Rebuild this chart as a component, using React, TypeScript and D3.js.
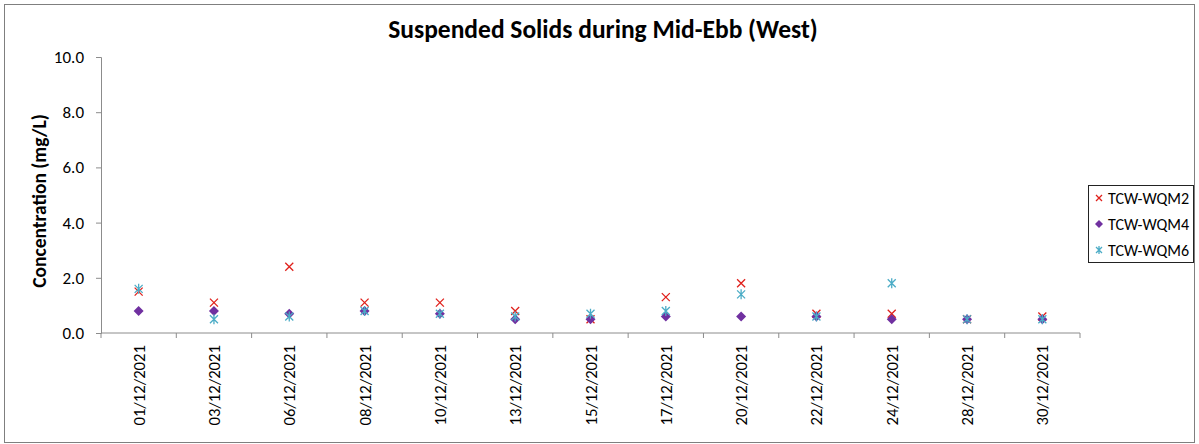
import { useEffect, useRef } from 'react';
import * as d3 from 'd3';

const dates = ['01/12/2021', '03/12/2021', '06/12/2021', '08/12/2021', '10/12/2021', '13/12/2021', '15/12/2021',
  '17/12/2021', '20/12/2021', '22/12/2021', '24/12/2021', '28/12/2021', '30/12/2021'];
const wqm2 = [1.5, 1.1, 2.4, 1.1, 1.1, 0.8, 0.5, 1.3, 1.8, 0.7, 0.7, 0.5, 0.6];
const wqm4 = [0.8, 0.8, 0.7, 0.8, 0.7, 0.5, 0.5, 0.6, 0.6, 0.6, 0.5, 0.5, 0.5];
const wqm6 = [1.6, 0.5, 0.6, 0.8, 0.7, 0.6, 0.7, 0.8, 1.4, 0.6, 1.8, 0.5, 0.5];
const yTicks = [0, 2, 4, 6, 8, 10];
const seriesNames = ['TCW-WQM2', 'TCW-WQM4', 'TCW-WQM6'];

const FONT = "Carlito, Lato, 'Liberation Sans', Arial, sans-serif";

// s = half size of marker
function drawMarker(g, kind, x, y, s = 4) {
  if (kind === 0) {
    g.append('path').attr('d', `M${x - s},${y - s}L${x + s},${y + s}M${x - s},${y + s}L${x + s},${y - s}`)
      .attr('stroke', '#e0201b').attr('stroke-width', 1.3).attr('fill', 'none');
  } else if (kind === 1) {
    const d = s + 1;
    g.append('path').attr('d', `M${x},${y - d}L${x + d},${y}L${x},${y + d}L${x - d},${y}Z`)
      .attr('fill', '#7030a0');
  } else {
    g.append('path').attr('d', `M${x - s},${y - s}L${x + s},${y + s}M${x - s},${y + s}L${x + s},${y - s}M${x},${y - s - 1}L${x},${y + s + 1}`)
      .attr('stroke', '#4bacc6').attr('stroke-width', 1.3).attr('fill', 'none');
  }
}

export default function App() {
  const svgRef = useRef(null);

  useEffect(() => {
    const svg = d3.select(svgRef.current);
    svg.selectAll('*').remove();

    const left = 101, right = 1080, top = 57, bottom = 333;

    svg.append('rect').attr('x', 4.5).attr('y', 4.5).attr('width', 1190).attr('height', 438)
      .attr('fill', 'white').attr('stroke', '#7f7f7f').attr('stroke-width', 1);

    const x = d3.scaleBand().domain(dates).range([left, right]);
    const y = d3.scaleLinear().domain([0, 10]).range([bottom, top]);

    // y axis
    const ya = svg.append('g').attr('transform', `translate(${left},0)`)
      .call(d3.axisLeft(y).tickValues(yTicks).tickSize(5).tickPadding(12).tickFormat(d3.format('.1f')));
    ya.select('.domain').attr('stroke', '#8c8c8c');
    ya.selectAll('line').attr('stroke', '#8c8c8c');
    ya.selectAll('text').attr('font-family', FONT).attr('font-size', 17).attr('fill', '#000');

    // x axis
    const xa = svg.append('g').attr('transform', `translate(0,${bottom})`);
    xa.append('line').attr('x1', left).attr('x2', right).attr('y1', 0).attr('y2', 0).attr('stroke', '#8c8c8c');
    xa.selectAll('.tk').data([...dates.map(d => x(d)), right]).enter().append('line')
      .attr('x1', d => d).attr('x2', d => d).attr('y1', 0).attr('y2', 5).attr('stroke', '#8c8c8c');
    xa.selectAll('.lbl').data(dates).enter().append('text')
      .attr('transform', d => `translate(${x(d) + x.bandwidth() / 2 + 6},12) rotate(-90)`)
      .attr('text-anchor', 'end').attr('font-family', FONT).attr('font-size', 16.7).text(d => d);

    // points
    const pts = svg.append('g');
    [wqm2, wqm4, wqm6].forEach((vals, k) => {
      vals.forEach((v, i) => drawMarker(pts, k, x(dates[i]) + x.bandwidth() / 2, y(v)));
    });

    // title
    svg.append('text').attr('x', 603).attr('y', 38).attr('text-anchor', 'middle')
      .attr('font-family', FONT).attr('font-weight', 'bold').attr('font-size', 25.5).text('Suspended Solids during Mid-Ebb (West)');

    svg.append('text').attr('transform', `translate(46,${(top + bottom) / 2 + 6}) rotate(-90)`)
      .attr('text-anchor', 'middle').attr('font-family', FONT).attr('font-weight', 'bold').attr('font-size', 19.5)
      .text('Concentration (mg/L)');

    // legend
    const lg = svg.append('g');
    lg.append('rect').attr('x', 1088.5).attr('y', 185.5).attr('width', 105).attr('height', 77)
      .attr('fill', 'white').attr('stroke', '#222').attr('stroke-width', 1);
    seriesNames.forEach((s, k) => {
      const cy = 198 + k * 26;
      drawMarker(lg, k, 1099, cy, 3);
      lg.append('text').attr('x', 1108).attr('y', cy + 6).attr('font-family', FONT).attr('font-size', 16).text(s);
    });
  }, []);

  return <svg ref={svgRef} width={1199} height={444} style={{ position: 'absolute', left: 0, top: 0 }}></svg>;
}
